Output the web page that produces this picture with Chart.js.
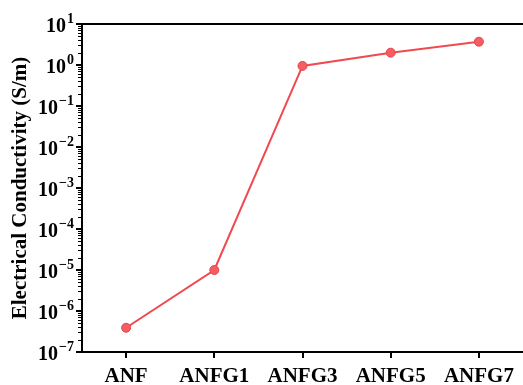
<!DOCTYPE html>
<html>
<head>
<meta charset="utf-8">
<script src="https://cdn.jsdelivr.net/npm/chart.js@4.4.1/dist/chart.umd.min.js"></script>
<style>
  html, body { margin: 0; padding: 0; background: #fff; overflow: hidden; }
  #wrap { width: 523px; height: 385px; }
</style>
</head>
<body>
<div id="wrap"><canvas id="chart" width="523" height="385"></canvas></div>
<script>
// data
const samples = ['ANF', 'ANFG1', 'ANFG3', 'ANFG5', 'ANFG7'];
const conductivity = [3.9e-7, 1.0e-5, 0.95, 2.0, 3.7];
const decades = [-7, -6, -5, -4, -3, -2, -1, 0, 1];

const SERIF = '"Liberation Serif", "Times New Roman", serif';
const RED = '#ef4a50';

// axis lines, log ticks, 10^n labels and the top frame line
const axesPlugin = {
  id: 'axes',
  afterDraw(chart) {
    const ctx = chart.ctx;
    const x = chart.scales.x;
    const y = chart.scales.y;
    const L = 82, T = 24, B = 352;
    ctx.save();
    ctx.strokeStyle = '#000';
    ctx.fillStyle = '#000';
    ctx.lineWidth = 2;

    // frame: left axis, bottom axis, top line
    ctx.beginPath();
    ctx.moveTo(chart.width, T);
    ctx.lineTo(L, T);
    ctx.lineTo(L, B);
    ctx.lineTo(chart.width, B);
    ctx.stroke();

    // x ticks
    samples.forEach((s, i) => {
      const px = Math.round(x.getPixelForValue(i));
      ctx.beginPath();
      ctx.moveTo(px, B);
      ctx.lineTo(px, B + 6);
      ctx.stroke();
    });

    // minor y ticks
    ctx.lineWidth = 1;
    for (let i = 0; i < decades.length - 1; i++) {
      for (let m = 2; m <= 9; m++) {
        const py = Math.round(y.getPixelForValue(m * Math.pow(10, decades[i]))) + 0.5;
        ctx.beginPath();
        ctx.moveTo(L - 1, py);
        ctx.lineTo(L - 4, py);
        ctx.stroke();
      }
    }

    // major y ticks + labels
    ctx.lineWidth = 2;
    decades.forEach(p => {
      const py = y.getPixelForValue(Math.pow(10, p));
      ctx.beginPath();
      ctx.moveTo(L - 1, py);
      ctx.lineTo(L - 6, py);
      ctx.stroke();

      const exp = p < 0 ? '\u2212' + (-p) : String(p);
      ctx.textBaseline = 'alphabetic';
      ctx.textAlign = 'left';
      ctx.font = 'bold 14px ' + SERIF;
      const ew = ctx.measureText(exp).width;
      ctx.font = 'bold 20px ' + SERIF;
      const bw = ctx.measureText('10').width;
      const right = 74;
      const bx = right - ew - 1 - bw;
      ctx.fillText('10', bx, py + 8);
      ctx.font = 'bold 14px ' + SERIF;
      ctx.fillText(exp, bx + bw + 1, py - 1);
    });
    ctx.restore();
  }
};

new Chart(document.getElementById('chart'), {
  type: 'line',
  data: {
    labels: samples,
    datasets: [{
      data: conductivity,
      borderColor: RED,
      borderWidth: 2,
      backgroundColor: RED,
      pointBackgroundColor: '#f45d62',
      pointBorderColor: '#e8434a',
      pointBorderWidth: 1,
      pointRadius: 4.5,
      tension: 0
    }]
  },
  options: {
    responsive: false,
    animation: false,
    devicePixelRatio: 1,
    layout: { autoPadding: false, padding: { top: 24, right: 0, left: 0, bottom: 0 } },
    plugins: {
      legend: { display: false },
      tooltip: { enabled: false }
    },
    scales: {
      x: {
        type: 'category',
        offset: true,
        border: { display: false },
        grid: { display: false, drawTicks: true, tickLength: 6 },
        ticks: {
          color: '#000',
          padding: 6,
          maxRotation: 0,
          font: { family: SERIF, size: 21, weight: 'bold' }
        },
        afterFit(scale) { scale.height = 33; }
      },
      y: {
        type: 'logarithmic',
        min: 1e-7,
        max: 10,
        border: { display: false },
        grid: { display: false },
        ticks: { display: false },
        title: {
          display: true,
          text: 'Electrical Conductivity (S/m)',
          color: '#000',
          padding: { top: 8, bottom: 0 },
          font: { family: SERIF, size: 21, weight: 'bold' }
        },
        afterFit(scale) { scale.width = 82; }
      }
    }
  },
  plugins: [axesPlugin]
});
</script>
</body>
</html>
